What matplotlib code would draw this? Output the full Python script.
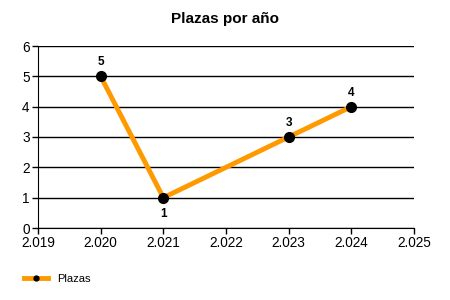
import matplotlib
matplotlib.use("Agg")
import matplotlib.pyplot as plt
from matplotlib.ticker import FuncFormatter

plt.rcParams['font.family'] = ['Liberation Sans', 'DejaVu Sans']

years = [2020, 2021, 2023, 2024]
plazas = [5, 1, 3, 4]
label_pos = ['above', 'below', 'above', 'above']

fig = plt.figure(figsize=(4.5, 3), dpi=100)
ax = fig.add_axes([38/450, 1-228/300, (414-38)/450, (228-46)/300])

ax.plot(years, plazas, color='#FF9900', lw=3.5, marker='o', markersize=7,
        markerfacecolor='black', markeredgecolor='black', label='Plazas', zorder=3)

for x, y, p in zip(years, plazas, label_pos):
    off = 10 if p == 'above' else -12
    ax.annotate(str(y), (x, y), xytext=(0, off), textcoords='offset points',
                ha='center', va='center', fontsize=8.5, fontweight='bold')

ax.set_xlim(2019, 2025)
ax.set_ylim(0, 6)
ax.set_xticks(range(2019, 2026))
ax.xaxis.set_major_formatter(FuncFormatter(lambda v, p: f"{int(v)//1000}.{int(v)%1000:03d}"))
ax.set_yticks(range(0, 7))
ax.yaxis.grid(True, color='black', lw=1)
ax.set_axisbelow(True)
for s in ['top', 'right']:
    ax.spines[s].set_visible(False)
ax.tick_params(labelsize=9.8, length=4, width=1, pad=2)

fig.suptitle('Plazas por año', x=0.5, y=1-19/300, va='center', fontsize=11, fontweight='bold')

fig.legend(loc='lower left', bbox_to_anchor=(0.03, 0.02), frameon=False, fontsize=8,
           handlelength=2.2, markerscale=0.5)

fig.savefig('out.png', dpi=100)
